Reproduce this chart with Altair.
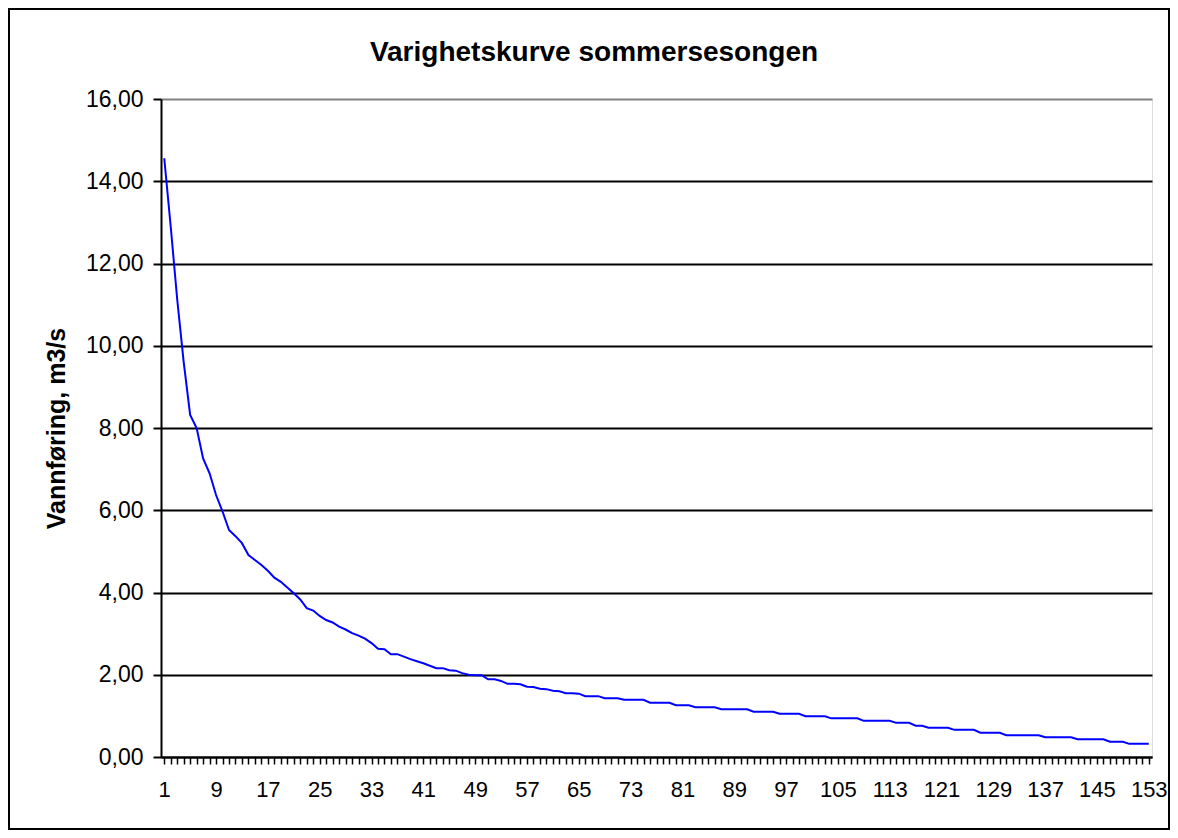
import altair as alt
import pandas as pd

# Data (duration curve, summer season)
days = list(range(1, 154))
flow = [
    14.56, 12.90, 11.13, 9.61, 8.32, 8.00, 7.26, 6.90, 6.37, 5.97,
    5.52, 5.37, 5.20, 4.91, 4.79, 4.67, 4.53, 4.36, 4.26, 4.12,
    3.98, 3.83, 3.62, 3.56, 3.43, 3.33, 3.27, 3.17, 3.10, 3.01,
    2.95, 2.88, 2.77, 2.63, 2.62, 2.50, 2.50, 2.44, 2.38, 2.33,
    2.28, 2.22, 2.16, 2.16, 2.11, 2.10, 2.04, 2.00, 1.99, 1.99,
    1.89, 1.89, 1.85, 1.78, 1.78, 1.77, 1.71, 1.70, 1.66, 1.65,
    1.61, 1.60, 1.55, 1.55, 1.54, 1.48, 1.48, 1.48, 1.43, 1.43,
    1.43, 1.39, 1.39, 1.39, 1.39, 1.32, 1.32, 1.32, 1.32, 1.26,
    1.26, 1.26, 1.21, 1.21, 1.21, 1.21, 1.16, 1.16, 1.16, 1.16,
    1.16, 1.10, 1.10, 1.10, 1.10, 1.05, 1.05, 1.05, 1.05, 0.99,
    0.99, 0.99, 0.99, 0.94, 0.94, 0.94, 0.94, 0.94, 0.88, 0.88,
    0.88, 0.88, 0.88, 0.83, 0.83, 0.83, 0.76, 0.76, 0.71, 0.71,
    0.71, 0.71, 0.66, 0.66, 0.66, 0.66, 0.59, 0.59, 0.59, 0.59,
    0.53, 0.53, 0.53, 0.53, 0.53, 0.53, 0.48, 0.48, 0.48, 0.48,
    0.48, 0.43, 0.43, 0.43, 0.43, 0.43, 0.37, 0.37, 0.37, 0.32,
    0.32, 0.32, 0.32,
]
y_ticks = [0, 2, 4, 6, 8, 10, 12, 14, 16]
title_text = "Varighetskurve sommersesongen"
y_title = "Vannføring, m3/s"

df = pd.DataFrame({"dag": days, "vannforing": flow})

FONT = "Liberation Sans"
W, H = 991, 658

x_enc = alt.X(
    "dag:Q",
    scale=alt.Scale(domain=[0.5, 153.5], nice=False, zero=False),
    axis=alt.Axis(
        values=days,
        labelExpr="(datum.value - 1) % 8 == 0 ? datum.value : ''",
        title=None,
        grid=False,
        domainColor="black",
        domainWidth=2,
        tickColor="black",
        tickWidth=1.5,
        tickSize=7,
        labelFont=FONT,
        labelFontSize=22,
        labelColor="black",
        labelPadding=15,
        labelOverlap=False,
        labelFlush=False,
    ),
)

y_enc = alt.Y(
    "vannforing:Q",
    scale=alt.Scale(domain=[0, 16], nice=False),
    axis=alt.Axis(
        values=y_ticks,
        labelExpr="replace(format(datum.value, '.2f'), '.', ',')",
        title=y_title,
        titleFont=FONT,
        titleFontSize=25,
        titleFontWeight="bold",
        titleColor="black",
        titleX=-97,
        titleY=329,
        titleBaseline="alphabetic",
        titleAngle=270,
        grid=True,
        gridColor=alt.condition("datum.value == 16", alt.value("#808080"), alt.value("black")),
        gridWidth=2,
        domainColor="black",
        domainWidth=2,
        tickColor="black",
        tickWidth=2,
        tickSize=8,
        labelFont=FONT,
        labelFontSize=23,
        labelColor="black",
        labelPadding=10,
        labelFlush=False,
    ),
)

line = alt.Chart(df).mark_line(color="#0000FF", strokeWidth=2).encode(x=x_enc, y=y_enc)

one = pd.DataFrame({"t": [title_text]})

title_mark = alt.Chart(one).mark_text(
    font=FONT, fontSize=28, fontWeight="bold", color="black",
    align="center", baseline="alphabetic",
).encode(text="t:N", x=alt.value(433), y=alt.value(-38))

border = alt.Chart(one).mark_rect(
    fill=None, stroke="black", strokeWidth=2
).encode(
    x=alt.value(-152), x2=alt.value(1008), y=alt.value(-90), y2=alt.value(730)
)

chart = alt.layer(line, title_mark, border).properties(
    width=W,
    height=H,
    autosize=alt.AutoSizeParams(type="none"),
    padding={"left": 153, "top": 91, "right": 18, "bottom": 73},
).configure_view(
    stroke="#808080", strokeWidth=2
).configure(background="white")

chart.save("out.html", embed_options={"renderer": "svg", "actions": False})
